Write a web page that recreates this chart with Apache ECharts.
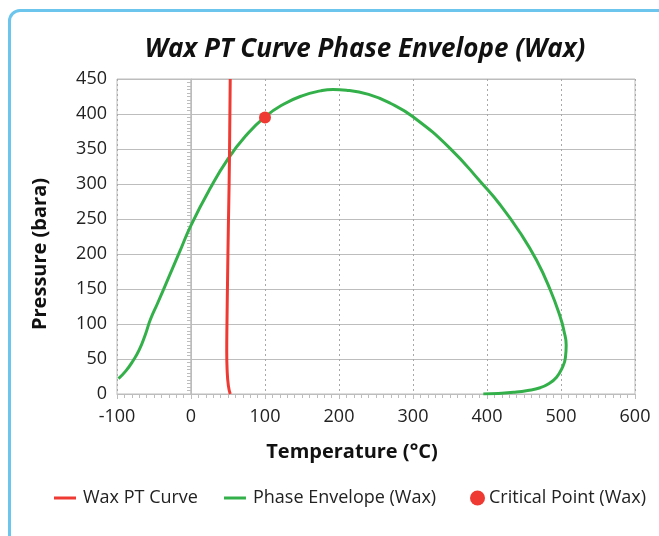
<!DOCTYPE html>
<html>
<head>
<meta charset="utf-8">
<script src="https://cdn.jsdelivr.net/npm/echarts@6/dist/echarts.min.js"></script>
<style>
  html, body { margin: 0; padding: 0; background: #fff; }
  #card {
    position: absolute; left: 8px; top: 9px; width: 720px; height: 600px;
    border: 3px solid #6cc5ec; border-radius: 12px; box-sizing: border-box;
  }
  #chart { position: absolute; left: 0; top: 0; width: 659px; height: 536px; }
</style>
</head>
<body>
<div id="card"></div>
<div id="chart"></div>
<script>
// Wax appearance temperature vs pressure (T °C, P bara)
const waxCurve = [
  [53, 0], [50.5, 12], [48.8, 35], [48.3, 60], [48.6, 100], [49.5, 170],
  [50.5, 240], [51.5, 300], [52.3, 370], [53, 450]
]

// Phase envelope, traced from the bubble side round to the dew side
const phaseEnvelope = [
  [-98, 22], [-88, 33], [-78, 48], [-70, 63], [-62, 84], [-55, 106],
  [-45, 130], [-30, 167], [-15, 204], [0, 241], [25, 292], [50, 336],
  [75, 370], [100, 396], [125, 414], [150, 426], [175, 433], [192, 435],
  [210, 434], [240, 428], [270, 415], [300, 396], [350, 351], [393, 301],
  [418, 270], [445, 230], [467, 191], [485, 150], [499, 110], [504, 90],
  [507, 70], [506, 52], [501, 36], [494, 24], [484, 15], [472, 9],
  [455, 5], [436, 2.4], [415, 0.8], [395, 0]
]

const criticalPoint = [[100, 395]]

const xTicks = { min: -100, max: 600, interval: 100 }
const yTicks = { min: 0, max: 450, interval: 50 }

const RED = '#ee3a32'
const GREEN = '#34b04a'
const FONT = '"Open Sans", "Noto Sans", sans-serif'
const LINE_ICON = 'path://M0,0L22,0L22,3L0,3Z'

const chart = echarts.init(document.getElementById('chart'))

chart.setOption({
  animation: false,
  textStyle: { fontFamily: FONT },
  title: {
    text: 'Wax PT Curve Phase Envelope (Wax)',
    left: 360,
    top: 32,
    textAlign: 'center',
    textStyle: { fontSize: 26, fontWeight: 'bold', fontStyle: 'italic', color: '#111', fontFamily: FONT }
  },
  grid: { left: 117, right: 24, top: 79, bottom: 142, show: true, borderColor: '#bdbdbd', borderWidth: 1 },
  xAxis: {
    type: 'value',
    min: xTicks.min,
    max: xTicks.max,
    interval: xTicks.interval,
    axisLine: { show: true, lineStyle: { color: '#bdbdbd' } },
    axisTick: { show: true, length: 5, lineStyle: { color: '#bdbdbd' } },
    minorTick: { show: true, splitNumber: 10, length: 4, lineStyle: { color: '#bdbdbd' } },
    axisLabel: { color: '#222', fontSize: 18, margin: 14 },
    splitLine: { show: true, lineStyle: { color: '#a8a8a8', type: [2, 3] } }
  },
  yAxis: {
    type: 'value',
    min: yTicks.min,
    max: yTicks.max,
    interval: yTicks.interval,
    axisLine: { show: true, lineStyle: { color: '#bdbdbd' } },
    axisTick: { show: true, length: 5, lineStyle: { color: '#bdbdbd' } },
    minorTick: { show: true, splitNumber: 10, length: 4, lineStyle: { color: '#bdbdbd' } },
    axisLabel: { color: '#222', fontSize: 18, margin: 10 },
    splitLine: { show: true, lineStyle: { color: '#bdbdbd', width: 1 } }
  },
  graphic: [
    {
      type: 'text',
      x: 352, y: 452,
      style: {
        text: 'Temperature (°C)', fill: '#111',
        font: 'bold 20px ' + FONT, align: 'center', verticalAlign: 'middle'
      }
    },
    {
      type: 'text',
      x: 40, y: 254, rotation: Math.PI / 2,
      style: {
        text: 'Pressure (bara)', fill: '#111',
        font: 'bold 20px ' + FONT, align: 'center', verticalAlign: 'middle'
      }
    }
  ],
  legend: [
    {
      left: 49,
      top: 484,
      itemWidth: 22,
      itemHeight: 15,
      itemGap: 26,
      textStyle: { fontSize: 18, color: '#222', fontFamily: FONT, padding: [0, 0, 0, 2] },
      data: [
        { name: 'Wax PT Curve', icon: LINE_ICON },
        { name: 'Phase Envelope (Wax)', icon: LINE_ICON }
      ]
    },
    {
      left: 465,
      top: 484,
      itemWidth: 15,
      itemHeight: 15,
      textStyle: { fontSize: 18, color: '#222', fontFamily: FONT, padding: [0, 0, 0, -1] },
      data: [{ name: 'Critical Point (Wax)', icon: 'circle' }]
    }
  ],
  series: [
    {
      name: 'Wax PT Curve',
      type: 'line',
      data: waxCurve,
      smooth: true,
      showSymbol: false,
      lineStyle: { color: RED, width: 3 },
      itemStyle: { color: RED },
      z: 3
    },
    {
      name: 'Phase Envelope (Wax)',
      type: 'line',
      data: phaseEnvelope,
      smooth: 0.5,
      showSymbol: false,
      lineStyle: { color: GREEN, width: 3 },
      itemStyle: { color: GREEN },
      z: 2,
      markLine: {
        silent: true,
        symbol: 'none',
        label: { show: false },
        lineStyle: { color: '#bdbdbd', type: 'solid', width: 1.5 },
        data: [{ xAxis: 0 }],
        z: 1
      }
    },
    {
      name: 'Critical Point (Wax)',
      type: 'scatter',
      data: criticalPoint,
      symbolSize: 12,
      itemStyle: { color: RED, opacity: 1 },
      z: 4
    }
  ]
})
</script>
</body>
</html>
